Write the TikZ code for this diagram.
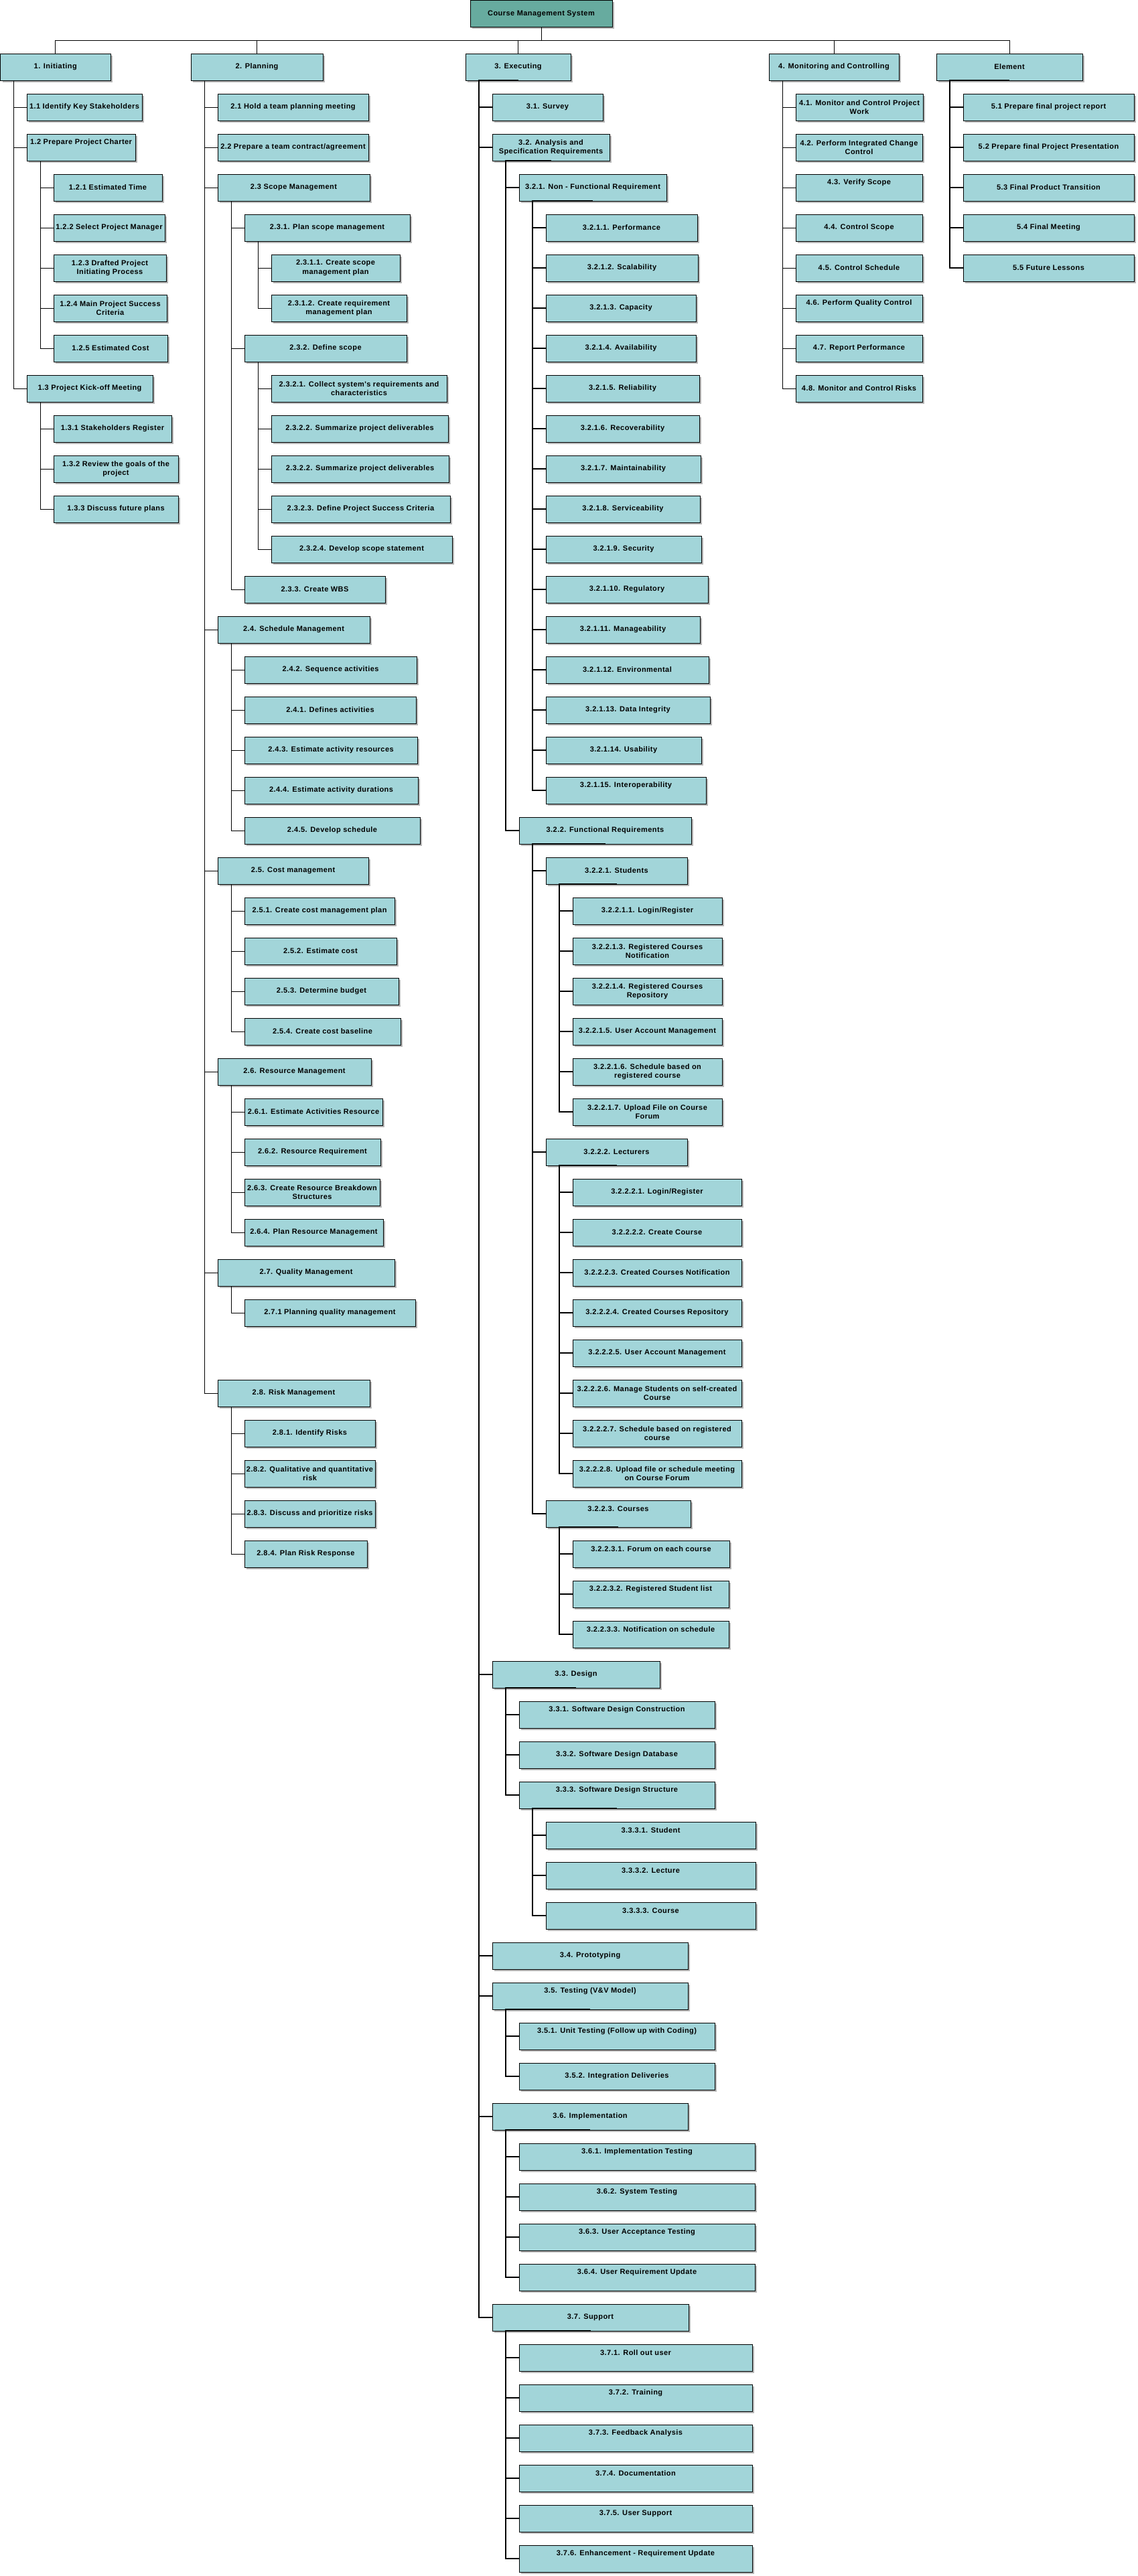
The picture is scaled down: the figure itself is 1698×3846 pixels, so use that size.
\documentclass[tikz,border=0pt]{standalone}
\usepackage{fontspec}
\newfontfamily\boxfont{Liberation Sans}[LetterSpace=4]
\usetikzlibrary{shadows}
\definecolor{boxfill}{HTML}{A2D5D9}
\definecolor{rootfill}{HTML}{67AB9F}
\tikzset{
 box/.style={draw=black, line width=0.9pt, fill=boxfill, outer sep=0pt, inner sep=1.5pt,
   minimum height=40pt, align=center,
   font=\boxfont\bfseries\fontsize{11}{13.5}\selectfont,
   drop shadow={shadow xshift=3pt, shadow yshift=-3pt, fill=black!28, opacity=1}},
 conn/.style={draw=black, line width=1pt},
 thk/.style={line width=1.4pt},
}
\newcommand\bx[6][]{\node[box,#1,minimum width={#4-#3}] (#2) at ({(#3+#4)/2},{100+60*#5}) {#6};}
\newcommand\upt[1]{\raisebox{7pt}[\height][\depth]{#1}}
\newcommand\kids[3][]{\foreach \ch in {#3}{\draw[conn,#1] (#2.south) -| ([xshift=20pt]#2.south west) |- (\ch.west);}}
\begin{document}
\begin{tikzpicture}[x=1pt,y=-1pt]
\fill[white] (0,0) rectangle (1698,3846);
\useasboundingbox (0,0) rectangle (1698,3846);
% root
\node[box,fill=rootfill,minimum width=212] (root) at (808,20.5) {Course Management System};
% level 1
\bx{n1}{0.5}{165}{0}{1. Initiating}
\bx{n2}{285}{482}{0}{2. Planning}
\bx{n3}{695}{852}{0}{3. Executing}
\bx{n4}{1148}{1342}{0}{4. Monitoring and Controlling}
\bx{n5}{1398}{1616}{0}{Element}
% Initiating
\bx{n11}{40}{212}{1}{1.1 Identify Key Stakeholders}
\bx{n12}{40}{202}{2}{\upt{1.2 Prepare Project Charter}}
\bx{n121}{80}{242}{3}{1.2.1 Estimated Time}
\bx{n122}{80}{246}{4}{1.2.2 Select Project Manager}
\bx{n123}{80}{248}{5}{1.2.3 Drafted Project\\Initiating Process}
\bx{n124}{80}{249}{6}{1.2.4 Main Project Success\\Criteria}
\bx{n125}{80}{250}{7}{1.2.5 Estimated Cost}
\bx{n13}{40}{228}{8}{1.3 Project Kick-off Meeting}
\bx{n131}{80}{256}{9}{1.3.1 Stakeholders Register}
\bx{n132}{80}{266}{10}{1.3.2 Review the goals of the\\project}
\bx{n133}{80}{266}{11}{1.3.3 Discuss future plans}
% Planning
\bx{n21}{325}{550}{1}{2.1 Hold a team planning meeting}
\bx{n22}{325}{550}{2}{2.2 Prepare a team contract/agreement}
\bx{n23}{325}{552}{3}{2.3 Scope Management}
\bx{n231}{365}{612}{4}{2.3.1. Plan scope management}
\bx{n2311}{405}{597}{5}{2.3.1.1. Create scope\\management plan}
\bx{n2312}{405}{607}{6}{2.3.1.2. Create requirement\\management plan}
\bx{n232}{365}{607}{7}{2.3.2. Define scope}
\bx{n2321}{405}{667}{8}{2.3.2.1. Collect system's requirements and\\characteristics}
\bx{n2322a}{405}{669}{9}{2.3.2.2. Summarize project deliverables}
\bx{n2322b}{405}{670}{10}{2.3.2.2. Summarize project deliverables}
\bx{n2323}{405}{672}{11}{2.3.2.3. Define Project Success Criteria}
\bx{n2324}{405}{675}{12}{2.3.2.4. Develop scope statement}
\bx{n233}{365}{575}{13}{2.3.3. Create WBS}
\bx{n24}{325}{552}{14}{2.4. Schedule Management}
\bx{n242}{365}{622}{15}{2.4.2. Sequence activities}
\bx{n241}{365}{621}{16}{2.4.1. Defines activities}
\bx{n243}{365}{623}{17}{2.4.3. Estimate activity resources}
\bx{n244}{365}{624}{18}{2.4.4. Estimate activity durations}
\bx{n245}{365}{627}{19}{2.4.5. Develop schedule}
\bx{n25}{325}{550}{20}{2.5. Cost management}
\bx{n251}{365}{589}{21}{2.5.1. Create cost management plan}
\bx{n252}{365}{592}{22}{2.5.2. Estimate cost}
\bx{n253}{365}{595}{23}{2.5.3. Determine budget}
\bx{n254}{365}{598}{24}{2.5.4. Create cost baseline}
\bx{n26}{325}{554}{25}{2.6. Resource Management}
\bx{n261}{365}{571}{26}{2.6.1. Estimate Activities Resource}
\bx{n262}{365}{568}{27}{2.6.2. Resource Requirement}
\bx{n263}{365}{567}{28}{2.6.3. Create Resource Breakdown\\Structures}
\bx{n264}{365}{572}{29}{2.6.4. Plan Resource Management}
\bx{n27}{325}{589}{30}{2.7. Quality Management}
\bx{n271}{365}{620}{31}{2.7.1 Planning quality management}
\bx{n28}{325}{552}{33}{2.8. Risk Management}
\bx{n281}{365}{560}{34}{2.8.1. Identify Risks}
\bx{n282}{365}{560}{35}{2.8.2. Qualitative and quantitative\\risk}
\bx{n283}{365}{560}{36}{2.8.3. Discuss and prioritize risks}
\bx{n284}{365}{548}{37}{2.8.4. Plan Risk Response}
% Executing
\bx{n31}{735}{900}{1}{3.1. Survey}
\bx{n32}{735}{910}{2}{3.2. Analysis and\\Specification Requirements}
\bx{n321}{775}{995}{3}{3.2.1. Non - Functional Requirement}
\bx{n3211}{815}{1041}{4}{3.2.1.1. Performance}
\bx{n3212}{815}{1042}{5}{3.2.1.2. Scalability}
\bx{n3213}{815}{1039}{6}{3.2.1.3. Capacity}
\bx{n3214}{815}{1039}{7}{3.2.1.4. Availability}
\bx{n3215}{815}{1044}{8}{3.2.1.5. Reliability}
\bx{n3216}{815}{1044}{9}{3.2.1.6. Recoverability}
\bx{n3217}{815}{1046}{10}{3.2.1.7. Maintainability}
\bx{n3218}{815}{1045}{11}{3.2.1.8. Serviceability}
\bx{n3219}{815}{1047}{12}{3.2.1.9. Security}
\bx{n32110}{815}{1057}{13}{3.2.1.10. Regulatory}
\bx{n32111}{815}{1045}{14}{3.2.1.11. Manageability}
\bx{n32112}{815}{1058}{15}{3.2.1.12. Environmental}
\bx{n32113}{815}{1060}{16}{3.2.1.13. Data Integrity}
\bx{n32114}{815}{1047}{17}{3.2.1.14. Usability}
\bx{n32115}{815}{1054}{18}{\upt{3.2.1.15. Interoperability}}
\bx{n322}{775}{1032}{19}{3.2.2. Functional Requirements}
\bx{n3221}{815}{1026}{20}{3.2.2.1. Students}
\bx{n32211}{855}{1078}{21}{3.2.2.1.1. Login/Register}
\bx{n32213}{855}{1078}{22}{3.2.2.1.3. Registered Courses\\Notification}
\bx{n32214}{855}{1078}{23}{3.2.2.1.4. Registered Courses\\Repository}
\bx{n32215}{855}{1078}{24}{3.2.2.1.5. User Account Management}
\bx{n32216}{855}{1078}{25}{3.2.2.1.6. Schedule based on\\registered course}
\bx{n32217}{855}{1078}{26}{3.2.2.1.7. Upload File on Course\\Forum}
\bx{n3222}{815}{1026}{27}{3.2.2.2. Lecturers}
\bx{n32221}{855}{1107}{28}{3.2.2.2.1. Login/Register}
\bx{n32222}{855}{1107}{29}{3.2.2.2.2. Create Course}
\bx{n32223}{855}{1107}{30}{3.2.2.2.3. Created Courses Notification}
\bx{n32224}{855}{1107}{31}{3.2.2.2.4. Created Courses Repository}
\bx{n32225}{855}{1107}{32}{3.2.2.2.5. User Account Management}
\bx{n32226}{855}{1107}{33}{3.2.2.2.6. Manage Students on self-created\\Course}
\bx{n32227}{855}{1107}{34}{3.2.2.2.7. Schedule based on registered\\course}
\bx{n32228}{855}{1107}{35}{3.2.2.2.8. Upload file or schedule meeting\\on Course Forum}
\bx{n3223}{815}{1031}{36}{\upt{3.2.2.3. Courses}}
\bx{n32231}{855}{1089}{37}{\upt{3.2.2.3.1. Forum on each course}}
\bx{n32232}{855}{1088}{38}{\upt{3.2.2.3.2. Registered Student list}}
\bx{n32233}{855}{1088}{39}{\upt{3.2.2.3.3. Notification on schedule}}
\bx{n33}{735}{985}{40}{3.3. Design}
\bx{n331}{775}{1067}{41}{\upt{3.3.1. Software Design Construction}}
\bx{n332}{775}{1067}{42}{3.3.2. Software Design Database}
\bx{n333}{775}{1067}{43}{\upt{3.3.3. Software Design Structure}}
\bx{n3331}{815}{1128}{44}{\upt{3.3.3.1. Student}}
\bx{n3332}{815}{1128}{45}{\upt{3.3.3.2. Lecture}}
\bx{n3333}{815}{1128}{46}{\upt{3.3.3.3. Course}}
\bx{n34}{735}{1027}{47}{3.4. Prototyping}
\bx{n35}{735}{1027}{48}{\upt{3.5. Testing (V\&V Model)}}
\bx{n351}{775}{1067}{49}{\upt{3.5.1. Unit Testing (Follow up with Coding)}}
\bx{n352}{775}{1067}{50}{3.5.2. Integration Deliveries}
\bx{n36}{735}{1027}{51}{3.6. Implementation}
\bx{n361}{775}{1127}{52}{\upt{3.6.1. Implementation Testing}}
\bx{n362}{775}{1127}{53}{\upt{3.6.2. System Testing}}
\bx{n363}{775}{1127}{54}{\upt{3.6.3. User Acceptance Testing}}
\bx{n364}{775}{1127}{55}{\upt{3.6.4. User Requirement Update}}
\bx{n37}{735}{1028}{56}{3.7. Support}
\bx{n371}{775}{1123}{57}{\upt{3.7.1. Roll out user}}
\bx{n372}{775}{1123}{58}{\upt{3.7.2. Training}}
\bx{n373}{775}{1123}{59}{\upt{3.7.3. Feedback Analysis}}
\bx{n374}{775}{1123}{60}{\upt{3.7.4. Documentation}}
\bx{n375}{775}{1123}{61}{\upt{3.7.5. User Support}}
\bx{n376}{775}{1123}{62}{\upt{3.7.6. Enhancement - Requirement Update}}
% Monitoring
\bx{n41}{1188}{1378}{1}{4.1. Monitor and Control Project\\Work}
\bx{n42}{1188}{1377}{2}{4.2. Perform Integrated Change\\Control}
\bx{n43}{1188}{1377}{3}{\upt{4.3. Verify Scope}}
\bx{n44}{1188}{1377}{4}{4.4. Control Scope}
\bx{n45}{1188}{1377}{5}{4.5. Control Schedule}
\bx{n46}{1188}{1377}{6}{\upt{4.6. Perform Quality Control}}
\bx{n47}{1188}{1377}{7}{4.7. Report Performance}
\bx{n48}{1188}{1377}{8}{4.8. Monitor and Control Risks}
% Element
\bx{n51}{1438}{1693}{1}{5.1 Prepare final project report}
\bx{n52}{1438}{1693}{2}{5.2 Prepare final Project Presentation}
\bx{n53}{1438}{1693}{3}{5.3 Final Product Transition}
\bx{n54}{1438}{1693}{4}{5.4 Final Meeting}
\bx{n55}{1438}{1693}{5}{5.5 Future Lessons}
% connectors
\foreach \ch in {n1,n2,n3,n4,n5}{\draw[conn] (root.south) -- ++(0,20) -| (\ch.north);}
\kids{n1}{n11,n12,n13}
\kids{n12}{n121,n122,n123,n124,n125}
\kids{n13}{n131,n132,n133}
\kids{n2}{n21,n22,n23,n24,n25,n26,n27,n28}
\kids{n23}{n231,n232,n233}
\kids{n231}{n2311,n2312}
\kids{n232}{n2321,n2322a,n2322b,n2323,n2324}
\kids{n24}{n242,n241,n243,n244,n245}
\kids{n25}{n251,n252,n253,n254}
\kids{n26}{n261,n262,n263,n264}
\kids{n27}{n271}
\kids{n28}{n281,n282,n283,n284}
\kids[thk]{n3}{n31,n32,n33,n34,n35,n36,n37}
\kids[thk]{n32}{n321,n322}
\kids[thk]{n321}{n3211,n3212,n3213,n3214,n3215,n3216,n3217,n3218,n3219,n32110,n32111,n32112,n32113,n32114,n32115}
\kids[thk]{n322}{n3221,n3222,n3223}
\kids[thk]{n3221}{n32211,n32213,n32214,n32215,n32216,n32217}
\kids[thk]{n3222}{n32221,n32222,n32223,n32224,n32225,n32226,n32227,n32228}
\kids[thk]{n3223}{n32231,n32232,n32233}
\kids[thk]{n33}{n331,n332,n333}
\kids[thk]{n333}{n3331,n3332,n3333}
\kids[thk]{n35}{n351,n352}
\kids[thk]{n36}{n361,n362,n363,n364}
\kids[thk]{n37}{n371,n372,n373,n374,n375,n376}
\kids{n4}{n41,n42,n43,n44,n45,n46,n47,n48}
\kids[thk]{n5}{n51,n52,n53,n54,n55}
\end{tikzpicture}
\end{document}
